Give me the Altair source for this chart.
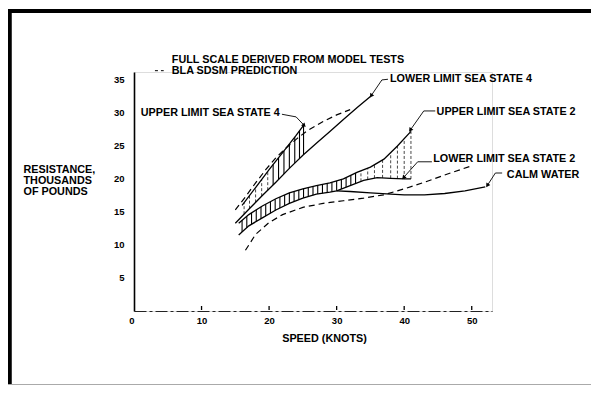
import altair as alt
import pandas as pd
import numpy as np

# ---------------- data ----------------
ss4_upper_x = [16, 18, 20, 22, 24, 25.1]
ss4_upper_y = [16.0, 18.7, 21.4, 24.0, 26.6, 28.1]
ss4_lower_x = [15, 17, 19, 21, 23, 25, 27, 29, 31, 33, 35]
ss4_lower_y = [13.3, 15.4, 17.5, 19.5, 21.6, 23.6, 25.4, 27.2, 29.0, 30.8, 32.5]
ss4_bla_x = [15, 16.5, 18, 19.5, 21, 22.5, 24, 25.5, 28, 30, 32]
ss4_bla_y = [15.3, 17.3, 19.4, 21.4, 23.2, 24.7, 26.0, 27.2, 28.7, 29.7, 30.5]

ss2_upper_x = [15.5, 17, 19, 21, 23, 25, 27, 29, 31, 33, 35, 37, 39, 41]
ss2_upper_y = [13.3, 14.6, 15.9, 17.0, 17.9, 18.5, 19.0, 19.4, 20.0, 21.0, 21.8, 23.0, 25.0, 27.2]
ss2_lower_x = [15.5, 17, 19, 21, 23, 25, 27, 29, 30, 32, 34, 36, 38, 40, 41]
ss2_lower_y = [11.5, 12.9, 14.1, 15.3, 16.3, 17.1, 17.7, 18.0, 18.2, 19.0, 19.8, 20.2, 20.1, 20.0, 20.0]
calm_x = [30, 32, 35, 38, 40, 43, 46, 49, 52]
calm_y = [18.2, 18.1, 17.9, 17.7, 17.6, 17.6, 17.8, 18.2, 18.8]
bla_low_x = [16.5, 18, 20, 22, 25, 28, 31, 34, 37, 40, 43, 46, 50]
bla_low_y = [9.2, 11.6, 13.4, 14.6, 15.7, 16.3, 16.7, 17.1, 17.6, 18.5, 19.5, 20.6, 22.0]

# hatch positions (knots)
ss4_hatch_solid = [20.6, 21.4, 22.2, 23.0, 23.8, 24.5, 25.1]
ss4_hatch_dash = [16.3, 17.1, 18.0, 18.9, 19.8]
ss2_hatch_solid = [16.0, 16.7, 17.4, 18.1, 18.8, 19.5, 20.2, 20.9, 21.6, 22.3, 23.0, 23.7,
                   24.4, 25.1, 25.8, 26.5, 27.2, 27.9, 28.6, 29.3, 30.0, 30.7, 31.4, 32.1, 32.8]
ss2_hatch_dash = [33.6, 34.6, 35.6, 36.8, 38.0, 39.0, 40.0, 41.0]

x_ticks = [10, 20, 30, 40, 50]
y_ticks = [5, 10, 15, 20, 25, 30, 35]

ann_text = ["FULL SCALE DERIVED FROM MODEL TESTS", "BLA SDSM PREDICTION",
            "UPPER LIMIT SEA STATE 4", "LOWER LIMIT SEA STATE 4",
            "UPPER LIMIT SEA STATE 2", "LOWER LIMIT SEA STATE 2", "CALM WATER"]
ann_x = [5.6, 5.6, 1.0, 37.9, 44.8, 44.3, 55.2]
ann_y = [38.0, 36.4, 30.0, 35.2, 30.2, 23.0, 20.6]

leaders = {
    "L1": ([21.9, 24.0, 25.2], [29.8, 29.4, 28.1]),
    "L2": ([37.6, 36.7, 35.1], [35.1, 35.0, 32.6]),
    "L3": ([44.6, 42.9, 40.9], [30.3, 30.3, 27.4]),
    "L4": ([44.1, 42.0, 39.9], [22.6, 22.6, 20.2]),
    "L5": ([54.5, 53.5, 52.3], [20.9, 20.9, 19.0]),
}
legend_dash_x = [3.1, 4.4]
legend_dash_y = [36.4, 36.4]

# ---------------- geometry ----------------
W, H = 358, 239
XMAX, YMAX = 53, 36.2
kx, ky = W / XMAX, H / YMAX

FONT = "Liberation Sans"

def mk(xs, ys, name):
    return pd.DataFrame({"x": xs, "y": ys, "s": name, "o": range(len(xs))})

solid = pd.concat([mk(ss4_upper_x, ss4_upper_y, "ss4u"), mk(ss4_lower_x, ss4_lower_y, "ss4l"),
                   mk(ss2_upper_x, ss2_upper_y, "ss2u"), mk(ss2_lower_x, ss2_lower_y, "ss2l"),
                   mk(calm_x, calm_y, "calm")])
dashed = pd.concat([mk(ss4_bla_x, ss4_bla_y, "bla4"), mk(bla_low_x, bla_low_y, "blal")])

def hatch(xs, ux, uy, lx, ly):
    return pd.DataFrame({"x": xs, "y": np.interp(xs, lx, ly), "y2": np.interp(xs, ux, uy)})

h_solid = pd.concat([hatch(ss4_hatch_solid, ss4_upper_x, ss4_upper_y, ss4_lower_x, ss4_lower_y),
                     hatch(ss2_hatch_solid, ss2_upper_x, ss2_upper_y, ss2_lower_x, ss2_lower_y)])
h_dash = pd.concat([hatch(ss4_hatch_dash, ss4_upper_x, ss4_upper_y, ss4_lower_x, ss4_lower_y),
                    hatch(ss2_hatch_dash, ss2_upper_x, ss2_upper_y, ss2_lower_x, ss2_lower_y)])

lead = pd.concat([mk(v[0], v[1], k) for k, v in leaders.items()])
heads = []
for k, (lx, ly) in leaders.items():
    dx = (lx[-1] - lx[-2]) * kx
    dy = -(ly[-1] - ly[-2]) * ky
    ang = (np.degrees(np.arctan2(dx, -dy)) + 360) % 360
    heads.append({"x": lx[-1], "y": ly[-1], "a": ang})
heads = pd.DataFrame(heads)

ann = pd.DataFrame({"x": ann_x, "y": ann_y, "t": ann_text})
legd = pd.DataFrame({"x": legend_dash_x, "y": legend_dash_y})
ticks = pd.DataFrame({"x": x_ticks})

xaxis = alt.Axis(values=x_ticks + [0], title="SPEED (KNOTS)", grid=False, ticks=False,
                 labelAlign=alt.expr("datum.value === 0 ? 'right' : 'center'"),
                 labelPadding=4, domainColor="#222", domainWidth=1.2,
                 domainDash=[12, 3, 3, 3], labelFont=FONT, labelFontSize=9.5,
                 labelFontWeight="bold", labelColor="black",
                 titleFont=FONT, titleFontSize=10.8, titleFontWeight="bold", titleColor="black",
                 titleX=190, titleY=27, titleBaseline="middle", titleAlign="center")
yaxis = alt.Axis(values=y_ticks, title=["RESISTANCE,", "THOUSANDS", "OF POUNDS"], grid=False,
                 ticks=False, labelPadding=10, domainColor="black", domainWidth=1.6,
                 labelFont=FONT, labelFontSize=9.5, labelFontWeight="bold", labelColor="black",
                 titleFont=FONT, titleFontSize=10.8, titleFontWeight="bold", titleColor="black",
                 titleAngle=0, titleAlign="left", titleBaseline="middle", titleX=-111, titleY=97,
                 titleLineHeight=11.3)

X = alt.X("x:Q", scale=alt.Scale(domain=[0, XMAX], nice=False, zero=False), axis=xaxis)
Y = alt.Y("y:Q", scale=alt.Scale(domain=[0, YMAX], nice=False, zero=False), axis=yaxis)

layers = [
    alt.Chart(h_solid).mark_rule(color="black", strokeWidth=1.1).encode(x=X, y=Y, y2="y2:Q"),
    alt.Chart(h_dash).mark_rule(color="#333", strokeWidth=0.9, strokeDash=[3, 2]).encode(x=X, y=Y, y2="y2:Q"),
    alt.Chart(solid).mark_line(color="black", strokeWidth=1.3).encode(x=X, y=Y, detail="s:N", order="o:Q"),
    alt.Chart(dashed).mark_line(color="black", strokeWidth=1.2, strokeDash=[6, 4]).encode(x=X, y=Y, detail="s:N", order="o:Q"),
    alt.Chart(lead).mark_line(color="black", strokeWidth=0.9).encode(x=X, y=Y, detail="s:N", order="o:Q"),
    alt.Chart(heads).mark_point(shape="triangle-up", filled=True, color="black", size=22, opacity=1).encode(x=X, y=Y, angle=alt.Angle("a:Q", scale=None)),
    alt.Chart(legd).mark_line(color="black", strokeWidth=1, strokeDash=[3, 3]).encode(x=X, y=Y),
    alt.Chart(ann).mark_text(align="left", baseline="middle", font=FONT, fontSize=10.8, fontWeight="bold", color="black").encode(x=X, y=Y, text="t:N"),
    alt.Chart(ticks).mark_rule(color="black", strokeWidth=1.3).encode(x=X, y=alt.value(H - 5), y2=alt.value(H - 1)),
    # page frame
    alt.Chart(ticks).mark_rule(color="black", strokeWidth=4).encode(x=alt.value(-126), x2=alt.value(457), y=alt.value(-61)),
    alt.Chart(ticks).mark_rule(color="black", strokeWidth=3.5).encode(x=alt.value(-124.5), y=alt.value(-63), y2=alt.value(313)),
    alt.Chart(ticks).mark_rule(color="#aaa", strokeWidth=1).encode(x=alt.value(-126), x2=alt.value(457), y=alt.value(312.5)),
]

chart = alt.layer(*layers).properties(
    width=W, height=H,
    autosize=alt.AutoSizeParams(type="none"),
    padding={"left": 126, "top": 64, "right": 99, "bottom": 74},
).configure_view(stroke=None).configure(background="white")

chart.save("out.html", embed_options={"renderer": "svg", "actions": False})
